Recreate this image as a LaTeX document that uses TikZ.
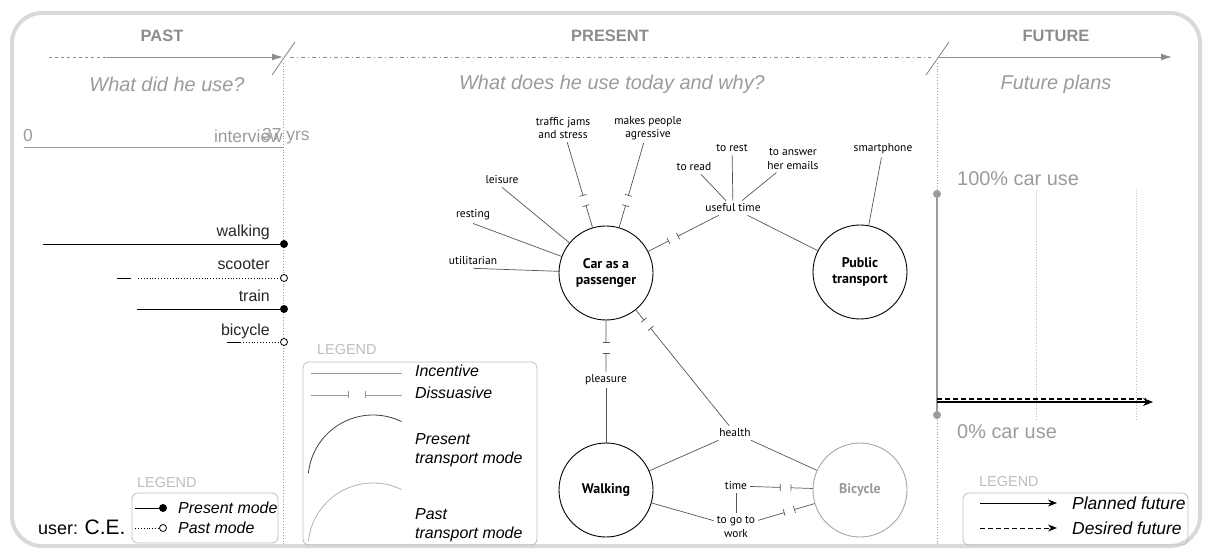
\documentclass[tikz,border=0pt]{standalone}
\usepackage{fontspec}
\setmainfont{Liberation Sans}
\newfontfamily\graphfont{PT Sans}
\usetikzlibrary{arrows.meta,calc}

\definecolor{framegray}{HTML}{D9D9D9}
\definecolor{headgray}{HTML}{8C8C8C}
\definecolor{textgray}{HTML}{9B9B9B}
\definecolor{linkgray}{HTML}{555555}
\definecolor{leggray}{HTML}{BDBDBD}

\begin{document}
\begin{tikzpicture}[
    x=1bp, y=-1bp,
    >={Latex[length=11bp,width=7bp]}, % 矢印のスタイル
    header/.style={font=\fontsize{16.5}{18}\selectfont\bfseries, text=headgray},
    question/.style={font=\fontsize{20}{22}\selectfont\itshape, text=textgray},
    scalelabel/.style={font=\fontsize{17.5}{19}\selectfont, text=textgray, inner sep=0pt},
    modelabel/.style={font=\fontsize{16}{18}\selectfont, text=black!85, anchor=base east, inner sep=0pt},
    presentdot/.style={circle, fill=black, inner sep=0pt, minimum size=8bp},
    pastdot/.style={circle, draw=black, fill=white, line width=0.8bp, inner sep=0pt, minimum size=7bp},
    legtitle/.style={font=\fontsize{14.5}{16}\selectfont, text=leggray, anchor=west, inner sep=0pt},
    legbox/.style={draw=leggray, rounded corners=6bp, line width=0.8bp},
    legtext/.style={font=\fontsize{16}{19}\selectfont\itshape, anchor=west, align=left, inner sep=0pt},
    modecircle/.style={circle, draw=black, line width=0.9bp, minimum size=94bp, inner sep=0pt, align=center,
        font=\graphfont\fontsize{14}{16.5}\selectfont\bfseries},
    reason/.style={font=\graphfont\fontsize{11.5}{13.5}\selectfont, align=center, inner sep=3bp},
    incentive/.style={draw=linkgray, line width=0.7bp},
    dissuasive/.style={draw=linkgray, line width=0.7bp, -{Bar[width=7bp]}, shorten >=5bp},
    ]

    \useasboundingbox (0,0) rectangle (1206,551);

    % --- 外枠 ---
    \draw[framegray, line width=4bp, rounded corners=30bp] (12,13) rectangle (1200,546);

    % --- 時間軸 ---
    \coordinate (pastL) at (49,57);
    \coordinate (pastM) at (107,57);
    \coordinate (pastR) at (283,57);
    \coordinate (presL) at (290,57);
    \coordinate (presR) at (931,57);
    \coordinate (futL) at (938,57);
    \coordinate (futR) at (1172,57);
    \draw[headgray, line width=0.9bp, dashed] (pastL) -- (pastM);
    \draw[headgray, line width=0.9bp, ->] (pastM) -- (pastR);
    \draw[headgray, line width=0.9bp, dash pattern=on 4bp off 3bp on 1bp off 3bp] (presL) -- (presR);
    \draw[headgray, line width=0.9bp, ->] (futL) -- (futR);
    % 区切りの斜線
    \draw[headgray, line width=0.9bp] (272,75) -- (295,42);
    \draw[headgray, line width=0.9bp] (926,75) -- (949,42);

    % 見出し
    \node[header] (past) at (162,36) {PAST};
    \node[header] (present) at (610,36) {PRESENT};
    \node[header] (future) at (1056,36) {FUTURE};
    \node[question] (pastq) at (167,84) {What did he use?};
    \node[question] (presentq) at (612,84) {What does he use today and why?};
    \node[question] (futureq) at (1056,84) {Future plans};

    % 区切りの点線
    \draw[textgray, dotted, line width=0.8bp] (283,63) -- (283,546);
    \draw[textgray, dotted, line width=0.8bp] (937,63) -- (937,546);

    % --- 過去 ---
    \node[scalelabel, anchor=west] (zero) at (23,136) {0};
    \node[scalelabel, anchor=east] (interview) at (283,136) {interview};
    \node[scalelabel, anchor=west] (age) at (262,136) {37 yrs};
    \coordinate (ageL) at (24,147);
    \coordinate (ageR) at (283,147);
    \draw[textgray, line width=0.9bp] (ageL) -- (ageR);

    % walking
    \node[modelabel] (walklbl) at (270,237) {walking};
    \coordinate (walkL) at (43,244);
    \node[presentdot] (walkdot) at (284,244) {};
    \draw[line width=0.9bp] (walkL) -- (walkdot);
    % scooter
    \node[modelabel] (scootlbl) at (270,270) {scooter};
    \coordinate (scootA) at (117,278);
    \coordinate (scootB) at (131,278);
    \coordinate (scootC) at (138,278);
    \node[pastdot] (scootdot) at (284,278) {};
    \draw[line width=0.9bp] (scootA) -- (scootB);
    \draw[line width=0.9bp, dotted] (scootC) -- (scootdot);
    % train
    \node[modelabel] (trainlbl) at (270,302) {train};
    \coordinate (trainL) at (137,309);
    \node[presentdot] (traindot) at (284,309) {};
    \draw[line width=0.9bp] (trainL) -- (traindot);
    % bicycle
    \node[modelabel] (bikelbl) at (270,336) {bicycle};
    \coordinate (bikeA) at (227,342);
    \coordinate (bikeB) at (240,342);
    \node[pastdot] (bikedot) at (284,342) {};
    \draw[line width=0.9bp] (bikeA) -- (bikeB);
    \draw[line width=0.9bp, dotted] (bikeB) -- (bikedot);

    % 凡例
    \node[legtitle] (pastlegtitle) at (137,483) {LEGEND};
    \draw[legbox] (132,493) rectangle (278,543);
    \coordinate (plegA) at (135,508);
    \node[presentdot] (plegdot) at (163,508) {};
    \draw[line width=0.9bp] (plegA) -- (plegdot);
    \node[legtext] (plegtext) at (178,508) {Present mode};
    \coordinate (qlegA) at (135,528);
    \node[pastdot] (qlegdot) at (163,528) {};
    \draw[line width=0.9bp, dotted] (qlegA) -- (qlegdot);
    \node[legtext] (qlegtext) at (178,528) {Past mode};
    \node[anchor=base west, inner sep=0pt] (user) at (38,534)
        {\fontsize{18}{20}\selectfont user: \fontsize{21}{23}\selectfont C.E.};

    % --- 現在 ---
    \node[modecircle] (car) at (606,273) {Car as a\\passenger};
    \node[modecircle] (public) at (860,272) {Public\\transport};
    \node[modecircle] (walking) at (606,490) {Walking};
    \node[modecircle, draw=black!35, text=black!40] (bike) at (860,490) {Bicycle};

    \node[reason] (jams) at (563,128) {traffic jams\\and stress};
    \node[reason] (aggressive) at (648,128) {makes people\\agressive};
    \node[reason] (leisure) at (502,180) {leisure};
    \node[reason] (resting) at (473,215) {resting};
    \node[reason] (utilitarian) at (473,261) {utilitarian};
    \node[reason] (useful) at (733,208) {useful time};
    \node[reason] (read) at (694,167) {to read};
    \node[reason] (rest) at (732,148) {to rest};
    \node[reason] (emails) at (793,159) {to answer\\her emails};
    \node[reason] (smartphone) at (883,149) {smartphone};
    \node[reason] (pleasure) at (606,380) {pleasure};
    \node[reason] (health) at (735,433) {health};
    \node[reason] (time) at (736,486) {time};
    \node[reason] (work) at (736,527) {to go to\\work};

    % 促進の線
    \foreach \a/\b in {leisure.south/car, resting.south/car, utilitarian.south/car,
        read/useful, rest/useful, emails/useful, useful/public, smartphone/public,
        pleasure/walking, health/walking, health/bike, time/work, walking/work}
        \draw[incentive] (\a) -- (\b);

    % 抑制の線 (中央で途切れる)
    \foreach \a/\b/\p in {jams/car/0.5, aggressive/car/0.5, useful/car/0.47, pleasure/car/0.3,
        health/car/0.68, time/bike/0.4, work/bike/0.43}
    {
        \draw[dissuasive] (\a) -- ($(\a)!\p!(\b)$);
        \draw[dissuasive] (\b) -- ($(\a)!\p!(\b)$);
    }

    % 凡例
    \node[legtitle] (preslegtitle) at (317,350) {LEGEND};
    \draw[legbox] (303,362) rectangle (537,545);
    \coordinate (incL) at (311,373);
    \coordinate (incR) at (402,373);
    \draw[textgray, line width=0.8bp] (incL) -- (incR);
    \node[legtext] (inctext) at (415,371) {Incentive};
    \coordinate (disL) at (311,395);
    \coordinate (disM) at (357,395);
    \coordinate (disR) at (402,395);
    \draw[dissuasive, draw=textgray, shorten >=8bp] (disL) -- (disM);
    \draw[dissuasive, draw=textgray, shorten >=8bp] (disR) -- (disM);
    \node[legtext] (distext) at (415,393) {Dissuasive};
    \coordinate (presarc) at (373,480);
    \draw[black!75, line width=0.8bp] (presarc) ++(-174:65) arc[start angle=-174, end angle=-64, radius=65];
    \node[legtext] (prestext) at (415,450) {Present\\transport mode};
    \coordinate (pastarc) at (373,548);
    \draw[black!30, line width=0.8bp] (pastarc) ++(-174:65) arc[start angle=-174, end angle=-64, radius=65];
    \node[legtext] (pasttext) at (415,525) {Past\\transport mode};

    % --- 未来 ---
    \node[scalelabel, font=\fontsize{20}{22}\selectfont, anchor=west] (full) at (957,179) {100\% car use};
    \node[scalelabel, font=\fontsize{20}{22}\selectfont, anchor=west] (none) at (957,432) {0\% car use};
    \node[circle, fill=textgray, inner sep=0pt, minimum size=8bp] (topdot) at (937,194) {};
    \node[circle, fill=textgray, inner sep=0pt, minimum size=8bp] (botdot) at (937,415) {};
    \draw[textgray, line width=1.2bp] (topdot) -- (botdot);
    \foreach \x in {1036,1136}
        \draw[black!25, dotted, line width=0.7bp] (\x,190) -- (\x,420);
    \coordinate (planL) at (937,402);
    \coordinate (planR) at (1153,402);
    \coordinate (wishL) at (937,399);
    \coordinate (wishR) at (1146,399);
    \draw[line width=1.5bp, -{Stealth[length=10bp,width=8bp]}] (planL) -- (planR);
    \draw[line width=1.1bp, dash pattern=on 5bp off 3bp] (wishL) -- (wishR);

    % 凡例
    \node[legtitle] (futlegtitle) at (979,482) {LEGEND};
    \draw[legbox] (963,493) rectangle (1188,545);
    \coordinate (lplanL) at (980,503);
    \coordinate (lplanR) at (1057,503);
    \draw[line width=1bp, -{Stealth[length=9bp,width=7bp]}] (lplanL) -- (lplanR);
    \node[legtext, font=\fontsize{17.5}{20}\selectfont\itshape] (plantext) at (1072,503) {Planned future};
    \coordinate (lwishL) at (980,528);
    \coordinate (lwishR) at (1057,528);
    \draw[line width=1bp, dash pattern=on 5bp off 3bp, -{Stealth[length=9bp,width=7bp]}] (lwishL) -- (lwishR);
    \node[legtext, font=\fontsize{17.5}{20}\selectfont\itshape] (wishtext) at (1072,528) {Desired future};

\end{tikzpicture}
\end{document}
